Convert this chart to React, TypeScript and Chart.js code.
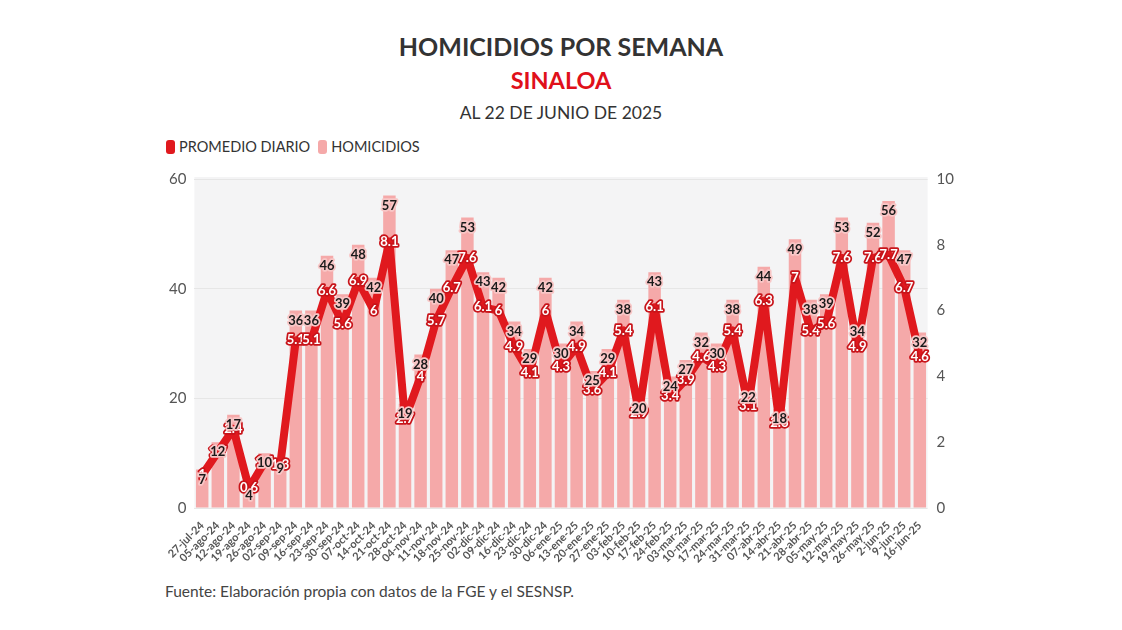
import React, { useEffect, useRef } from "react";
import { Chart, registerables } from "chart.js";

Chart.register(...registerables);

const weeks = [
  "27-jul-24", "05-ago-24", "12-ago-24", "19-ago-24", "26-ago-24", "02-sep-24", "09-sep-24",
  "16-sep-24", "23-sep-24", "30-sep-24", "07-oct-24", "14-oct-24", "21-oct-24", "28-oct-24",
  "04-nov-24", "11-nov-24", "18-nov-24", "25-nov-24", "02-dic-24", "09-dic-24", "16-dic-24",
  "23-dic-24", "30-dic-24", "06-ene-25", "13-ene-25", "20-ene-25", "27-ene-25", "03-feb-25",
  "10-feb-25", "17-feb-25", "24-feb-25", "03-mar-25", "10-mar-25", "17-mar-25", "24-mar-25",
  "31-mar-25", "07-abr-25", "14-abr-25", "21-abr-25", "28-abr-25", "05-may-25", "12-may-25",
  "19-may-25", "26-may-25", "2-jun-25", "9-jun-25", "16-jun-25",
];

const homicidios = [
  7, 12, 17, 4, 10, 9, 36, 36, 46, 39, 48, 42, 57, 19, 28, 40, 47, 53, 43, 42, 34, 29, 42, 30,
  34, 25, 29, 38, 20, 43, 24, 27, 32, 30, 38, 22, 44, 18, 49, 38, 39, 53, 34, 52, 56, 47, 32,
];

const promedioDiario = [
  1.0, 1.7, 2.4, 0.6, 1.4, 1.3, 5.1, 5.1, 6.6, 5.6, 6.9, 6.0, 8.1, 2.7, 4.0, 5.7, 6.7, 7.6, 6.1,
  6.0, 4.9, 4.1, 6.0, 4.3, 4.9, 3.6, 4.1, 5.4, 2.9, 6.1, 3.4, 3.9, 4.6, 4.3, 5.4, 3.1, 6.3, 2.6,
  7.0, 5.4, 5.6, 7.6, 4.9, 7.6, 7.7, 6.7, 4.6,
];

const leftTicks = [0, 20, 40, 60];
const rightTicks = [0, 2, 4, 6, 8, 10];

const FONT = "Lato, 'Open Sans', sans-serif";
const RED = "#e0191e";
const PINK = "#f5a9a9";

const fmt = (v: number) => {
  const r = Math.round(v * 10) / 10;
  return Number.isInteger(r) ? String(r) : r.toFixed(1);
};

const bgPlugin = {
  id: "areaBg",
  beforeDraw(chart: any) {
    const { ctx, chartArea } = chart;
    if (!chartArea) return;
    ctx.save();
    ctx.fillStyle = "#f4f4f5";
    ctx.fillRect(chartArea.left, chartArea.top - 2, chartArea.right - chartArea.left, chartArea.bottom - chartArea.top + 2);
    ctx.restore();
  },
};

const labelPlugin = {
  id: "valueLabels",
  afterDatasetsDraw(chart: any) {
    const { ctx } = chart;
    ctx.save();
    ctx.textAlign = "center";
    ctx.textBaseline = "middle";
    ctx.lineJoin = "round";
    ctx.font = `bold 13px ${FONT}`;
    const lineMeta = chart.getDatasetMeta(0);
    lineMeta.data.forEach((el: any, i: number) => {
      const t = fmt(promedioDiario[i]);
      ctx.lineWidth = 3.5;
      ctx.strokeStyle = "#c8141a";
      ctx.strokeText(t, el.x, el.y);
      ctx.fillStyle = "#ffffff";
      ctx.fillText(t, el.x, el.y);
    });
    const barMeta = chart.getDatasetMeta(1);
    barMeta.data.forEach((el: any, i: number) => {
      const v = homicidios[i];
      const y = el.y + 10;
      ctx.lineWidth = 3.5;
      ctx.strokeStyle = "#f8c6c6";
      ctx.strokeText(String(v), el.x, y);
      ctx.fillStyle = "#1a1a1a";
      ctx.fillText(String(v), el.x, y);
    });
    ctx.restore();
  },
};

const LegendBox = ({ color }: { color: string }) => (
  <span style={{ display: "inline-block", width: 9, height: 14, borderRadius: 3, background: color, marginRight: 4, verticalAlign: -2 }} />
);

export default function App() {
  const ref = useRef<HTMLCanvasElement | null>(null);

  useEffect(() => {
    if (!ref.current) return;
    const chart = new Chart(ref.current, {
      type: "bar",
      data: {
        labels: weeks,
        datasets: [
          {
            type: "line",
            label: "PROMEDIO DIARIO",
            data: promedioDiario,
            yAxisID: "y1",
            borderColor: RED,
            backgroundColor: RED,
            borderWidth: 8,
            pointRadius: 0,
            tension: 0,
            order: 0,
            borderJoinStyle: "round",
          } as any,
          {
            type: "bar",
            label: "HOMICIDIOS",
            data: homicidios,
            yAxisID: "y",
            backgroundColor: PINK,
            borderWidth: 0,
            barPercentage: 0.8,
            categoryPercentage: 1,
            order: 1,
          } as any,
        ],
      },
      options: {
        animation: false,
        responsive: false,
        maintainAspectRatio: false,
        layout: { padding: 0 },
        plugins: {
          tooltip: { enabled: false },
          legend: { display: false },
        },
        scales: {
          x: {
            grid: { display: false },
            border: { display: false },
            afterFit: (scale: any) => {
              scale.paddingLeft = 0;
              scale.paddingRight = 0;
              scale.height = 55;
            },
            ticks: {
              autoSkip: false,
              maxRotation: 45,
              minRotation: 45,
              color: "#555",
              font: { family: FONT, size: 11, weight: "bold" },
              padding: 3,
            },
          },
          y: {
            position: "left",
            min: 0,
            max: 60,
            afterBuildTicks: (axis: any) => {
              axis.ticks = leftTicks.map((v) => ({ value: v }));
            },
            grid: { color: "#e6e6e6", lineWidth: 1, drawTicks: false },
            border: { display: false },
            ticks: { color: "#555", font: { family: FONT, size: 15 }, padding: 8 },
          },
          y1: {
            position: "right",
            min: 0,
            max: 10,
            afterBuildTicks: (axis: any) => {
              axis.ticks = rightTicks.map((v) => ({ value: v }));
            },
            grid: { display: false },
            border: { display: false },
            ticks: { color: "#555", font: { family: FONT, size: 15 }, padding: 1 },
          },
        },
      } as any,
      plugins: [bgPlugin, labelPlugin],
    });
    return () => chart.destroy();
  }, []);

  return (
    <div style={{ position: "relative", width: 1122, height: 630, fontFamily: FONT, margin: -8, background: "#fff" }}>
      <div style={{ position: "absolute", top: 31, left: 0, width: 1122, textAlign: "center", fontSize: 25, fontWeight: 700, color: "#333" }}>
        HOMICIDIOS POR SEMANA
      </div>
      <div style={{ position: "absolute", top: 66, left: 0, width: 1122, textAlign: "center", fontSize: 23.5, fontWeight: 700, color: "#e0101a" }}>
        SINALOA
      </div>
      <div style={{ position: "absolute", top: 102, left: 0, width: 1122, textAlign: "center", fontSize: 17.5, color: "#333" }}>
        AL 22 DE JUNIO DE 2025
      </div>
      <div style={{ position: "absolute", top: 138, left: 166, fontSize: 14.5, color: "#333", whiteSpace: "nowrap" }}>
        <LegendBox color={RED} />PROMEDIO DIARIO
        <span style={{ display: "inline-block", width: 8 }} />
        <LegendBox color={PINK} />HOMICIDIOS
      </div>
      <canvas
        ref={ref}
        width={794}
        height={401}
        style={{ position: "absolute", left: 161, top: 162, width: 794, height: 401 }}
      />
      <div style={{ position: "absolute", top: 582, left: 165, fontSize: 15.5, color: "#444" }}>
        Fuente: Elaboración propia con datos de la FGE y el SESNSP.
      </div>
    </div>
  );
}
